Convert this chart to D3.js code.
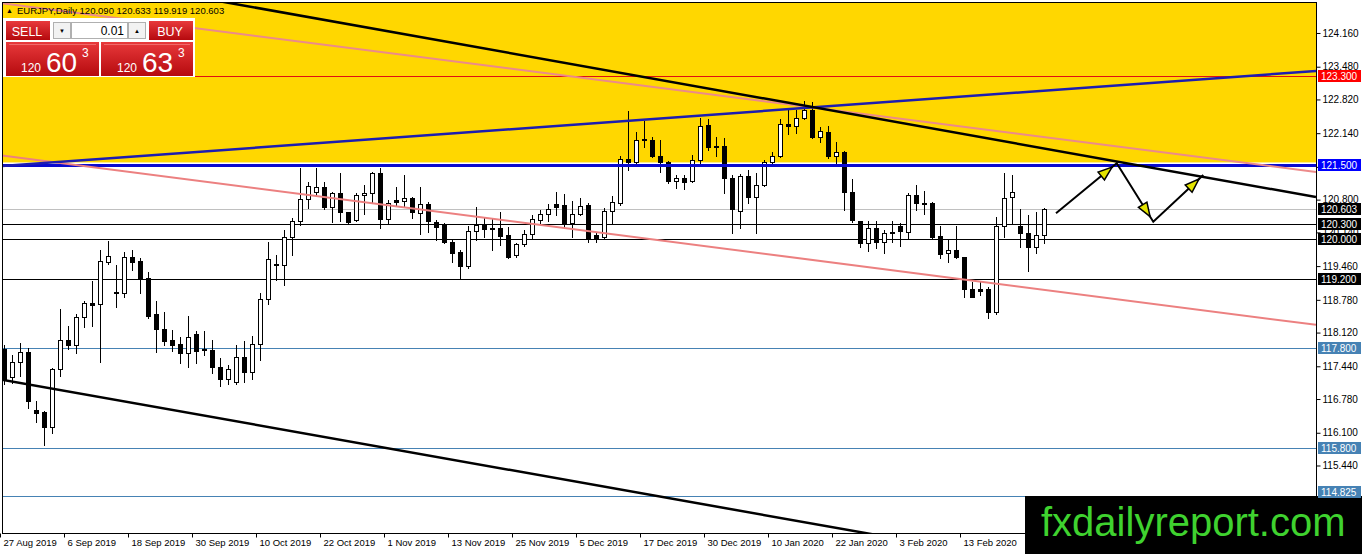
<!DOCTYPE html>
<html>
<head>
<meta charset="utf-8">
<script src="https://cdn.jsdelivr.net/npm/d3@7"></script>
<style>
html, body { margin: 0; padding: 0; background: #fff; }
svg { display: block; font-family: "Liberation Sans", Arial, sans-serif; }
</style>
</head>
<body>
<div id="chart"></div>
<script>

// daily EURJPY bars, [open, high, low, close]
const candles = [
  [117.78,117.87,117.08,117.18],[117.22,117.67,117.10,117.52],[117.52,117.90,117.25,117.72],[117.72,117.80,116.59,116.75],
  [116.56,116.75,116.32,116.50],[116.52,116.53,115.85,116.22],[116.22,117.41,116.10,117.39],[117.38,118.60,117.25,117.97],
  [117.97,118.25,117.79,117.87],[117.86,118.49,117.71,118.43],[118.43,118.76,118.24,118.71],[118.72,119.15,118.26,118.68],
  [118.69,119.79,117.53,119.56],[119.55,119.97,119.50,119.66],[118.94,119.48,118.64,118.91],[118.91,119.74,118.84,119.64],
  [119.64,119.79,119.38,119.55],[119.56,119.62,118.92,119.23],[119.23,119.34,118.41,118.45],[118.49,118.76,117.73,118.20],
  [118.20,118.54,117.86,117.96],[117.97,118.17,117.75,117.87],[117.88,118.03,117.50,117.71],[117.71,118.45,117.43,118.04],
  [118.10,118.15,117.51,117.75],[117.76,118.16,117.67,117.78],[117.77,117.98,117.30,117.42],[117.42,117.61,117.05,117.18],
  [117.18,117.47,117.08,117.38],[117.13,117.87,117.08,117.63],[117.63,117.94,117.12,117.32],[117.32,118.05,117.18,117.88],
  [117.88,118.91,117.57,118.79],[118.79,119.95,118.70,119.60],[119.51,119.68,119.18,119.49],[119.49,120.19,119.08,120.04],
  [120.04,120.42,119.68,120.37],[120.36,121.43,120.29,120.81],[120.81,121.16,120.63,121.08],[120.95,121.43,120.87,121.05],
  [121.05,121.16,120.62,120.65],[120.65,120.96,120.34,120.93],[120.93,121.33,120.37,120.56],[120.55,120.56,120.31,120.34],
  [120.38,120.93,120.36,120.89],[120.89,121.10,120.52,120.93],[120.93,121.36,120.76,121.33],[121.33,121.43,120.22,120.40],
  [120.40,120.79,120.31,120.73],[120.79,121.06,120.69,120.76],[120.77,121.30,120.66,120.83],[120.83,120.86,120.42,120.56],
  [120.54,121.06,120.11,120.71],[120.71,120.76,120.15,120.36],[120.35,120.39,119.99,120.25],[120.28,120.32,119.92,119.95],
  [119.95,119.99,119.55,119.73],[119.74,119.79,119.20,119.47],[119.46,120.27,119.42,120.17],[120.17,120.66,119.99,120.28],
  [120.28,120.46,120.05,120.20],[120.21,120.42,119.79,120.23],[120.23,120.56,119.89,120.07],[120.09,120.25,119.62,119.65],
  [119.68,119.92,119.65,119.90],[119.90,120.19,119.86,120.10],[120.11,120.49,120.02,120.40],[120.39,120.59,120.32,120.52],
  [120.52,120.71,120.36,120.62],[120.71,120.96,120.49,120.66],[120.69,120.91,120.25,120.31],[120.32,120.77,120.05,120.52],
  [120.52,120.83,120.49,120.68],[120.69,120.73,119.95,120.01],[120.09,120.15,119.95,120.03],[120.04,120.64,120.03,120.57],
  [120.57,120.88,120.32,120.75],[120.73,121.67,120.69,121.61],[121.61,122.59,121.40,121.55],[121.56,122.17,121.54,122.00],
  [122.00,122.39,121.87,122.02],[122.00,122.07,121.66,121.67],[121.68,122.00,121.36,121.56],[121.56,121.58,121.13,121.18],
  [121.18,121.30,121.03,121.23],[121.23,121.30,121.01,121.16],[121.18,121.71,121.16,121.59],[121.59,122.44,121.53,122.29],
  [122.30,122.43,121.80,121.87],[121.87,122.07,121.67,121.88],[121.88,122.05,120.93,121.23],[121.23,121.30,120.12,120.62],
  [120.58,121.31,120.22,121.28],[121.28,121.40,120.73,120.86],[120.86,121.33,120.12,121.10],[121.10,121.60,121.08,121.56],
  [121.56,121.77,121.51,121.68],[121.67,122.43,121.65,122.32],[122.32,122.65,122.12,122.29],[122.29,122.61,122.14,122.44],
  [122.44,122.78,122.43,122.61],[122.61,122.76,122.05,122.07],[122.07,122.26,121.97,122.18],[122.16,122.29,121.63,121.67],
  [121.67,121.96,121.53,121.77],[121.77,121.78,120.59,120.96],[120.96,121.22,120.35,120.39],[120.36,120.37,119.85,119.92],
  [119.92,120.36,119.76,120.23],[120.23,120.37,119.83,119.95],[119.95,120.19,119.73,120.12],[120.15,120.37,119.95,120.12],
  [120.27,120.32,119.87,120.17],[120.15,120.93,120.01,120.89],[120.89,121.10,120.59,120.73],[120.74,120.97,120.52,120.72],
  [120.73,120.75,120.03,120.05],[120.07,120.27,119.63,119.70],[119.72,119.99,119.55,119.79],[119.79,120.27,119.63,119.65],
  [119.64,119.65,118.84,118.99],[119.00,119.13,118.83,118.83],[119.00,119.13,118.88,118.96],[119.00,119.03,118.42,118.53],
  [118.53,120.46,118.50,120.27],[120.27,121.33,120.05,120.83],[120.85,121.30,120.32,120.95],[120.27,120.62,119.85,120.12],
  [120.12,120.49,119.37,119.84],[119.84,120.56,119.72,120.09],[120.090,120.633,119.919,120.603]
];

const dateLabels = ["27 Aug 2019","6 Sep 2019","18 Sep 2019","30 Sep 2019","10 Oct 2019","22 Oct 2019",
  "1 Nov 2019","13 Nov 2019","25 Nov 2019","5 Dec 2019","17 Dec 2019","30 Dec 2019",
  "10 Jan 2020","22 Jan 2020","3 Feb 2020","13 Feb 2020"];
const dateTickBars = [0,8,16,24,32,40,48,56,64,72,80,88,96,104,112,120];

const priceTicks = [124.160,123.480,122.820,122.140,121.460,120.800,120.140,119.460,
  118.780,118.120,117.440,116.780,116.100,115.440];

// horizontal levels
const redLevels = [123.300];
const blueLevels = [121.500];
const bidLevels = [120.603];
const blackLevels = [120.300, 120.000, 119.200];
const steelLevels = [117.800, 115.800, 114.825];

// resistance zone (price range)
const zoneRange = [121.55, 125.5];

// trendlines as [bar, price] pairs
const upperBlack = [[20, 125.00], [164, 120.853]];
const lowerBlack = [[-1, 117.19], [112, 113.955]];
const pinkUpper = [[-0.25, 124.758], [164, 121.357]];
const pinkLower = [[-0.25, 121.692], [164, 118.275]];
const blueTrend = [[-0.25, 121.478], [164, 123.394]];
const forecastPath = [[131.5, 120.525], [139.09, 121.533], [143.66, 120.355], [149.91, 121.297]];

const header = "EURJPY,Daily  120.090 120.633 119.919 120.603";

const W = 1362, H = 554;
const L = 2, T = 2, R = 1316, B = 533;

const x = d3.scaleLinear().domain([0, 164]).range([4, 1316]);
const y = d3.scaleLinear().domain([114.079, 124.825]).range([B, 0]);

const svg = d3.select("#chart").append("svg")
    .attr("width", W)
    .attr("height", H);

const defs = svg.append("defs");
defs.append("clipPath").attr("id", "plot-clip")
    .append("rect").attr("x", L).attr("y", T).attr("width", R - L).attr("height", B - T);

const redGrad = defs.append("linearGradient").attr("id", "redGrad")
    .attr("x1", 0).attr("y1", 0).attr("x2", 0).attr("y2", 1);
redGrad.append("stop").attr("offset", "0%").attr("stop-color", "#e8393b");
redGrad.append("stop").attr("offset", "100%").attr("stop-color", "#b50a0e");

svg.append("rect").attr("width", W).attr("height", H).attr("fill", "#fff");

const plot = svg.append("g").attr("clip-path", "url(#plot-clip)");

// yellow zone
plot.append("rect")
    .attr("x", L).attr("width", R - L)
    .attr("y", y(zoneRange[1]))
    .attr("height", y(zoneRange[0]) - y(zoneRange[1]))
    .attr("fill", "#ffd700");

function hLines(levels, color, width) {
    plot.selectAll(null).data(levels).enter().append("line")
        .attr("x1", L).attr("x2", R)
        .attr("y1", d => Math.round(y(d)) + (width % 2 ? 0.5 : 0))
        .attr("y2", d => Math.round(y(d)) + (width % 2 ? 0.5 : 0))
        .attr("stroke", color)
        .attr("stroke-width", width);
}
hLines(redLevels, "#e01010", 1);
hLines(bidLevels, "#c0c0c0", 1);
hLines(blackLevels, "#000", 1);
hLines(steelLevels, "#4682b4", 1);

// candles
const bars = plot.selectAll(".bar").data(candles).enter().append("g");
bars.append("line")
    .attr("x1", (d, i) => Math.round(x(i)) + 0.5)
    .attr("x2", (d, i) => Math.round(x(i)) + 0.5)
    .attr("y1", d => Math.round(y(d[1])))
    .attr("y2", d => Math.round(y(d[2])) + 1)
    .attr("stroke", "#000");
bars.append("rect")
    .attr("x", (d, i) => Math.round(x(i)) - 1.5)
    .attr("width", 4)
    .attr("y", d => Math.round(y(Math.max(d[0], d[3]))) + 0.5)
    .attr("height", d => Math.max(0.01, Math.round(y(Math.min(d[0], d[3]))) - Math.round(y(Math.max(d[0], d[3])))))
    .attr("fill", d => d[3] >= d[0] ? "#fff" : "#000")
    .attr("stroke", "#000");

hLines(blueLevels, "#0a0ad0", 3);

const line = d3.line().x(d => x(d[0])).y(d => y(d[1]));

function trend(pts, color, width) {
    plot.append("path").datum(pts)
        .attr("d", line)
        .attr("fill", "none")
        .attr("stroke", color)
        .attr("stroke-width", width);
}
trend(pinkUpper, "#ec8a8a", 2);
trend(pinkLower, "#ec8080", 2);
trend(blueTrend, "#1d1db0", 2.5);
trend(upperBlack, "#000", 2.5);
trend(lowerBlack, "#000", 2.5);

// forecast zigzag with arrow heads
trend(forecastPath, "#000", 2);
for (let k = 1; k < forecastPath.length; k++) {
    const x0 = x(forecastPath[k - 1][0]), y0 = y(forecastPath[k - 1][1]);
    const x1 = x(forecastPath[k][0]), y1 = y(forecastPath[k][1]);
    const len = Math.hypot(x1 - x0, y1 - y0);
    const ux = (x1 - x0) / len, uy = (y1 - y0) / len;
    const tipX = x1 - ux * 6, tipY = y1 - uy * 6;
    const bX = tipX - ux * 14, bY = tipY - uy * 14;
    const pts = [[tipX, tipY], [bX - uy * 5, bY + ux * 5], [bX + uy * 5, bY - ux * 5]];
    plot.append("path")
        .attr("d", "M" + pts.map(p => p.join(",")).join("L") + "Z")
        .attr("fill", "#e4e400")
        .attr("stroke", "#000")
        .attr("stroke-width", 1.5);
}

// frame
svg.append("rect")
    .attr("x", L + 0.5).attr("y", T + 0.5)
    .attr("width", R - L).attr("height", B - T)
    .attr("fill", "none").attr("stroke", "#000");

// right price axis
const yAxis = svg.append("g")
    .attr("transform", "translate(" + (R + 0.5) + ",0)")
    .call(d3.axisRight(y).tickValues(priceTicks).tickFormat(d3.format(".3f")).tickSize(4).tickPadding(2));
yAxis.select(".domain").remove();
yAxis.selectAll("text").attr("font-size", 10).attr("font-family", "Liberation Sans, Arial, sans-serif").attr("fill", "#000");
yAxis.selectAll("line").attr("stroke", "#000");

// bottom date axis
const xAxis = svg.append("g")
    .attr("transform", "translate(-4," + (B + 0.5) + ")")
    .call(d3.axisBottom(x).tickValues(dateTickBars).tickFormat((d, i) => dateLabels[i]).tickSize(4).tickPadding(2));
xAxis.select(".domain").remove();
xAxis.selectAll("text")
    .attr("text-anchor", "start").attr("x", 3)
    .attr("font-size", 9.5).attr("font-family", "Liberation Sans, Arial, sans-serif").attr("fill", "#000");
xAxis.selectAll("line").attr("stroke", "#000");

// site banner
svg.append("rect").attr("x", 1025).attr("y", 496).attr("width", 337).attr("height", 58).attr("fill", "#000");
svg.append("text").attr("x", 1041).attr("y", 536)
    .attr("font-size", 40).attr("fill", "#3fd22f")
    .text("fxdailyreport.com");

// price tags of the levels, on top of everything on the right
function levelTags(levels, bg) {
    const g = svg.selectAll(null).data(levels).enter().append("g")
        .attr("transform", d => "translate(" + (R + 2) + "," + Math.min(Math.round(y(d)), 492) + ")");
    g.append("rect").attr("x", 0).attr("y", -6).attr("width", 43).attr("height", 12).attr("fill", bg);
    g.append("text").attr("x", 3).attr("y", 4)
        .attr("font-size", 10).attr("fill", "#fff")
        .text(d => d3.format(".3f")(d));
}
levelTags(redLevels, "#ff0000");
levelTags(blueLevels, "#0000ff");
levelTags(bidLevels, "#000");
levelTags(blackLevels, "#000");
levelTags(steelLevels, "#4682b4");

// header
const hd = svg.append("text").attr("x", 6).attr("y", 14).attr("font-size", 9.5).attr("fill", "#000");
hd.append("tspan").attr("font-size", 7).attr("dy", -1).text("\u25B2");
hd.append("tspan").attr("dx", 4).attr("dy", 1).text(header);

// trade panel
const panel = svg.append("g");
panel.append("rect").attr("x", 3).attr("y", 18).attr("width", 192).attr("height", 59).attr("fill", "#fff");
[[6, 21, 44, 19], [149, 21, 44, 19], [6, 42, 93, 34], [101, 42, 92, 34]].forEach(r => {
    panel.append("rect").attr("x", r[0]).attr("y", r[1]).attr("width", r[2]).attr("height", r[3])
        .attr("fill", "url(#redGrad)");
});
panel.append("line").attr("x1", 9).attr("x2", 96).attr("y1", 44.5).attr("y2", 44.5).attr("stroke", "#f06a6a");
panel.append("line").attr("x1", 104).attr("x2", 190).attr("y1", 44.5).attr("y2", 44.5).attr("stroke", "#f06a6a");
panel.append("text").attr("x", 27).attr("y", 35.5).attr("text-anchor", "middle")
    .attr("font-size", 12.5).attr("fill", "#fff").text("SELL");
panel.append("text").attr("x", 170).attr("y", 35.5).attr("text-anchor", "middle")
    .attr("font-size", 12.5).attr("fill", "#fff").text("BUY");
panel.append("rect").attr("x", 53.5).attr("y", 22.5).attr("width", 17).attr("height", 16)
    .attr("fill", "#f2f2f2").attr("stroke", "#b0b0b0");
panel.append("rect").attr("x", 71.5).attr("y", 22.5).attr("width", 56).attr("height", 16)
    .attr("fill", "#fff").attr("stroke", "#b0b0b0");
panel.append("rect").attr("x", 128.5).attr("y", 22.5).attr("width", 17).attr("height", 16)
    .attr("fill", "#f2f2f2").attr("stroke", "#b0b0b0");
panel.append("text").attr("x", 62).attr("y", 33).attr("text-anchor", "middle").attr("font-size", 6).text("\u25BC");
panel.append("text").attr("x", 137).attr("y", 33).attr("text-anchor", "middle").attr("font-size", 6).text("\u25B2");
panel.append("text").attr("x", 124).attr("y", 35).attr("text-anchor", "end").attr("font-size", 12).text("0.01");

function quote(x0, big, small) {
    panel.append("text").attr("x", x0).attr("y", 72).attr("font-size", 12).attr("fill", "#fff").text("120");
    panel.append("text").attr("x", x0 + 25).attr("y", 72).attr("font-size", 28).attr("fill", "#fff").text(big);
    panel.append("text").attr("x", x0 + 61).attr("y", 57).attr("font-size", 12).attr("fill", "#fff").text(small);
}
quote(21, "60", "3");
quote(117, "63", "3");

</script>
</body>
</html>
